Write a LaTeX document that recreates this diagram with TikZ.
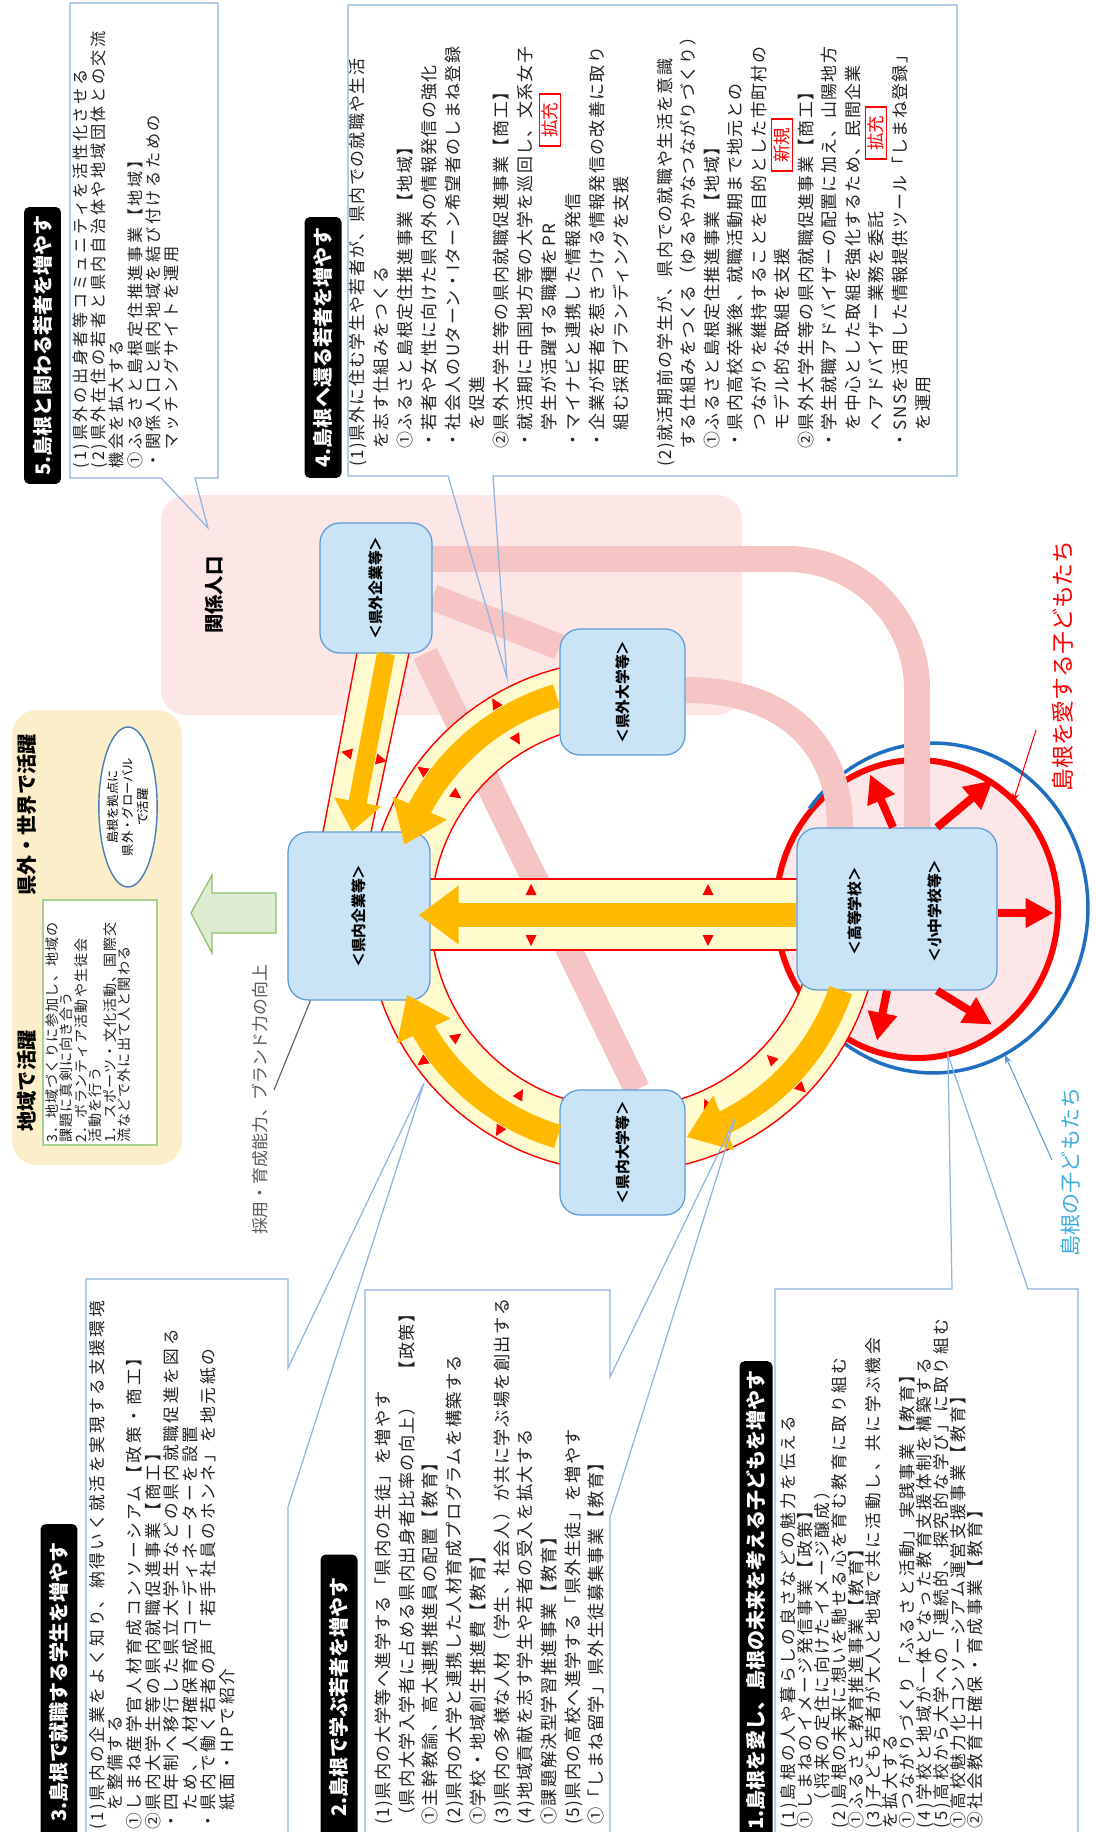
\documentclass[tikz,border=0pt]{standalone}
\usepackage{fontspec}
\newfontfamily\jp{Noto Sans CJK JP}
\newfontfamily\jpls{Noto Sans CJK JP}[LetterSpace=8]
\newfontfamily\jplt{Noto Sans CJK JP}[LetterSpace=16]
\usetikzlibrary{arrows.meta, calc, positioning, shapes.geometric}
\pgfdeclarelayer{bg}
\pgfsetlayers{bg,main}
\definecolor{boxfill}{HTML}{C9E4F7}
\definecolor{boxline}{HTML}{5B9BD5}
\definecolor{ringfill}{HTML}{FFFBCF}
\definecolor{ringred}{HTML}{FF0000}
\definecolor{gold}{HTML}{FFBA00}
\definecolor{pinkband}{HTML}{F7C4C4}
\definecolor{pinkarea}{HTML}{FCE6E6}
\definecolor{pinkfill}{HTML}{FCE6E8}
\definecolor{calloutline}{HTML}{8DB4E2}
\definecolor{kidsblue}{HTML}{1F6FC0}
\definecolor{kidslabel}{HTML}{3DAEE0}
\definecolor{panelfill}{HTML}{FCEEC8}
\definecolor{panelgreen}{HTML}{A9D18E}
\definecolor{arrowgreen}{HTML}{DDEBD1}
\definecolor{arrowgreenline}{HTML}{8CC26E}
\definecolor{ovalline}{HTML}{4A7EBB}
\definecolor{labelgray}{HTML}{595959}
\definecolor{bodyink}{HTML}{222222}
\newcommand\bodyfont[1]{\jpls\fontsize{#1}{#1}\selectfont}
\newcommand\tightfont[1]{\jplt\fontsize{#1}{#1}\selectfont}
\newcommand\paneltitle{\jp\bfseries\fontsize{11.5pt}{12pt}\selectfont}
\newcommand\redtri[2]{\fill[ringred, shift={#1}, rotate=#2] (6,0) -- (-5,5.5) -- (-5,-5.5) -- cycle;}
% one rotated text line per column: baseline x, bottom y, pitch, font, name, lines
\newcommand\textcolumn[6]{%
  \foreach \ln [count=\i from 0] in {#6}{%
    \node[rotate=90, anchor=base west, inner sep=0pt, text=bodyink, font=#4] (#5\i) at ({#1+\i*#3},#2) {\ln};
  }%
}
\begin{document}
\begin{tikzpicture}[x=0.02cm, y=-0.02cm,
  orgbox/.style={draw=boxline, fill=boxfill, rounded corners=0.4cm, rotate=90, line width=0.7pt, inner sep=0pt, font=\jp\bfseries\fontsize{8.4pt}{9pt}\selectfont},
  orglbl/.style={rotate=90, inner sep=0pt, font=\jp\bfseries\fontsize{8.4pt}{9pt}\selectfont},
  blocktitle/.style={fill=black, text=white, rounded corners=3pt, rotate=90, minimum height=0.74cm, inner sep=0pt, font=\jp\bfseries\fontsize{11.4pt}{12pt}\selectfont},
  badge/.style={draw=ringred, text=ringred, fill=white, rotate=90, line width=0.8pt, inner xsep=0.17cm, inner ysep=1.5pt, font=\jp\fontsize{10pt}{10pt}\selectfont},
  vlabel/.style={rotate=90, inner sep=0pt},
  callout/.style={draw=calloutline, line width=0.7pt},
  bandedge/.style={draw=ringred, line width=0.8pt},
  goldarr/.style={draw=gold, line width=0.48cm, -{Triangle[width=1.12cm, length=0.8cm]}},
  goldthin/.style={draw=gold, line width=0.36cm, -{Triangle[width=0.92cm, length=0.6cm]}},
  redarr/.style={draw=ringred, line width=0.16cm, -{Triangle[width=0.56cm, length=0.56cm]}},
  pinkroute/.style={draw=pinkband, line width=0.52cm},
]
\useasboundingbox (0,0) rectangle (1096,1832);
%%--- organisations ---
\node[orgbox, minimum width=2.6cm, minimum height=2.24cm] (kgk) at (376,588) {＜県外企業等＞};
\node[orgbox, minimum width=2.52cm, minimum height=2.5cm] (kgd) at (622.5,692) {＜県外大学等＞};
\node[orgbox, minimum width=3.36cm, minimum height=2.84cm] (knk) at (359,916) {＜県内企業等＞};
\node[orgbox, minimum width=2.5cm, minimum height=2.5cm] (knd) at (622.5,1152.5) {＜県内大学等＞};
\node[orgbox, minimum width=3.24cm, minimum height=4cm] (kou) at (897,909) {};
\node[orglbl] (kouhs) at (855,911) {＜高等学校＞};
\node[orglbl] (kouel) at (935,911) {＜小中学校等＞};
\coordinate (ringc) at (623,916);
\begin{pgfonlayer}{bg}
\fill[white] (0,0) rectangle (1096,1832);
%%--- relation population ---
\fill[pinkarea, rounded corners=0.5cm] (161,495) rectangle (742,715);
\node[vlabel, font=\jp\bfseries\fontsize{11pt}{12pt}\selectfont] (kankei) at (214,595) {関係人口};
%%--- activity panel ---
\fill[panelfill, rounded corners=0.5cm] (12,710) rectangle (182,1165);
\node[vlabel, font=\paneltitle] (abroad) at (27,815) {県外・世界で活躍};
\node[vlabel, font=\paneltitle] (region) at (27,1081) {地域で活躍};
\node[draw=panelgreen, fill=white, line width=0.8pt, rotate=90, minimum width=4.9cm, minimum height=2.28cm, inner sep=0pt] (regionbox) at (100,1022.5) {};
\textcolumn{57.3}{1143}{14.5}{\bodyfont{8pt}}{rg}{3．地域づくりに参加し、地域の, 課題に真剣に向き合う, 2．ボランティア活動や生徒会, 活動を行う, 1．スポーツ・文化活動、国際交, 流などで外に出て人と関わる}
\node[ellipse, draw=ovalline, fill=white, line width=0.8pt, rotate=90, minimum width=3.2cm, minimum height=1.14cm, inner sep=0pt, align=center, font=\jp\fontsize{7pt}{8.5pt}\selectfont] (oval) at (128,807) {島根を拠点に\\県外・グローバル\\で活躍};
\filldraw[fill=arrowgreen, draw=arrowgreenline, line width=0.7pt] (191,913) -- (212,875) -- (212,893) -- (276,893) -- (276,933) -- (212,933) -- (212,953) -- cycle;
%%--- children circles ---
\filldraw[fill=pinkfill, draw=ringred, line width=0.12cm] (917,909) ellipse [x radius=141, y radius=149];
\draw[kidsblue, line width=0.07cm, shift={(933,908)}] plot[domain=-143:125, samples=90] ({155*cos(\x)},{165*sin(\x)});
%%--- pink routes ---
\draw[pinkroute, rounded corners=2.6cm] ($(kgk.south)+(0,-29)$) -| ($(kou.east)+(20,0)$);
\draw[pinkroute] ($(kgk.south)+(0,9)$) -- ($(kgd.north)+(0,-45)$);
\draw[pinkroute] ($(kgk.west)+(49,0)$) -- ($(knd.east)+(14.5,0)$);
\draw[pinkroute] ($(kgd.south)+(0,-2)$) .. controls +(105,0) and +(0,-78) .. ($(kou.east)+(-57,0)$);
%%--- ring and bands ---
\begin{scope}[shift={(ringc)}]
  \fill[ringfill] plot[domain=-5:280, samples=90] (\x:256) -- plot[domain=280:-5, samples=90] (\x:192) -- cycle;
  \draw[bandedge] plot[domain=-5:280, samples=90] (\x:256);
  \draw[bandedge] plot[domain=-5:280, samples=90] (\x:192);
  \foreach \a in {44,66,120,144,216,239} {
    \redtri{(\a:248)}{-\a}
    \redtri{(\a:206)}{180-\a}
  }
\end{scope}
\fill[ringfill] (357,653) -- (409,653) -- (371,832) -- (323,832) -- cycle;
\draw[bandedge] (357,653) -- (323,832);
\draw[bandedge] (409,653) -- (371,832);
\redtri{(347,753)}{-191.5}
\redtri{(381,760)}{-11.5}
\fill[ringfill] (430,879) rectangle (797,950);
\draw[bandedge] (430,879) -- (797,879) (430,950) -- (797,950);
\foreach \p in {531,708} {
  \redtri{(\p,890)}{90}
  \redtri{(\p,940)}{-90}
}
\end{pgfonlayer}
%%--- flows ---
\draw[goldarr] ($(kou.north)+(0,6)$) -- ($(knk.south)+(-12,-1)$);
\draw[goldthin] ($(kgk.west)+(10,0)$) -- ($(knk.east)+(-7,0)$);
\begin{scope}[shift={(ringc)}]
  \draw[goldarr] plot[domain=253.2:208, samples=20] (\x:230) -- (198:230);
  \draw[goldarr] plot[domain=106.5:150, samples=20] (\x:230) -- (160:230);
  \draw[goldarr] plot[domain=18.8:64, samples=20] (\x:230) -- (74:230);
\end{scope}
\draw[redarr] ($(kou.east)+(-4,0)$) -- ++(-23,-53);
\draw[redarr] ($(kou.east)+(40,0)$) -- ++(56,-47);
\draw[redarr] ($(kou.south)+(0,4)$) -- ++(56,0);
\draw[redarr] ($(kou.west)+(40,0)$) -- ++(55,34);
\draw[redarr] ($(kou.west)+(-10,0)$) -- ++(-10,50);
%%--- children labels ---
\node[vlabel, text=ringred, font=\jp\fontsize{13pt}{14pt}\selectfont] (lovekids) at (1063,666) {島根を愛する子どもたち};
\draw[ringred, line width=0.6pt, -{Stealth[length=5pt, width=4pt]}] (1036,730) -- (1013,802);
\node[vlabel, text=kidslabel, font=\jp\fontsize{12pt}{13pt}\selectfont] (allkids) at (1070,1172) {島根の子どもたち};
\draw[kidsblue!70, line width=0.6pt, -{Stealth[length=5pt, width=4pt]}] (1052,1160) -- (1005,1055);
\node[vlabel, text=labelgray, font=\jp\fontsize{9.6pt}{10pt}\selectfont] (brand) at (260,1100) {採用・育成能力、ブランド力の向上};
\draw[labelgray, line width=0.6pt] (274,1090) -- ($(knk.north west)+(23,0)$);
%%--- 5. related youth ---
\node[blocktitle, minimum width=5.54cm] (t5) at (42.5,345.5) {5.島根と関わる若者を増やす};
\textcolumn{86.1}{469}{18.3}{\tightfont{9.2pt}}{bf}{(1)県外の出身者等コミュニティを活性化させる, (2)県外在住の若者と県内自治体や地域団体との交流, 機会を拡大する, ①ふるさと島根定住推進事業【地域】, ・関係人口と県内地域を結び付けるための, 　マッチングサイトを運用}
\draw[callout] (70,3) -- (218,3) -- (218,478) -- (195,478) -- (208,528) -- (161,478) -- (70,478) -- cycle;
%%--- 4. returning youth ---
\node[blocktitle, minimum width=5.22cm] (t4) at (323,347.5) {4.島根へ還る若者を増やす};
\textcolumn{363.4}{467}{24}{\bodyfont{9.65pt}}{bd}{(1)県外に住む学生や若者が、県内での就職や生活, 　を志す仕組みをつくる, 　①ふるさと島根定住推進事業【地域】, 　・若者や女性に向けた県内外の情報発信の強化, 　・社会人のUターン・Iターン希望者のしまね登録, 　　を促進, 　②県外大学生等の県内就職促進事業【商工】, 　・就活期に中国地方等の大学を巡回し、文系女子, 　　学生が活躍する職種をPR, 　・マイナビと連携した情報発信, 　・企業が若者を惹きつける情報発信の改善に取り, 　　組む採用ブランディングを支援}
\textcolumn{671.4}{467}{23.5}{\bodyfont{9.65pt}}{be}{(2)就活期前の学生が、県内での就職や生活を意識, 　する仕組みをつくる（ゆるやかなつながりづくり）, 　①ふるさと島根定住推進事業【地域】, 　・県内高校卒業後、就職活動期まで地元との, 　　つながりを維持することを目的とした市町村の, 　　モデル的な取組を支援, 　②県外大学生等の県内就職促進事業【商工】, 　・学生就職アドバイザーの配置に加え、山陽地方, 　　を中心とした取組を強化するため、民間企業, 　　へアドバイザー業務を委託, 　・SNSを活用した情報提供ツール「しまね登録」, 　　を運用}
\node[badge] (new4a) at (550,120) {拡充};
\node[badge] (new4b) at (782,145) {新規};
\node[badge] (new4c) at (876,133) {拡充};
\draw[callout] (348,5) -- (957,5) -- (957,476) -- (493,476) -- (507,678) -- (448,476) -- (348,476) -- cycle;
%%--- 3. employment ---
\node[blocktitle, minimum width=6.32cm] (t3) at (59,1682) {3.島根で就職する学生を増やす};
\textcolumn{103.3}{1830}{18.6}{\tightfont{9.5pt}}{bc}{(1)県内の企業をよく知り、納得いく就活を実現する支援環境, 　を整備する, ①しまね産学官人材育成コンソーシアム【政策・商工】, ②県内大学生等の県内就職促進事業【商工】, ・四年制へ移行した県立大学生などの県内就職促進を図る, 　ため、人材確保育成コーディネーターを設置, ・県内で働く若者の声「若手社員のホンネ」を地元紙の, 　紙面・HPで紹介}
\draw[callout] (86,1840) -- (86,1279) -- (288,1279) -- (288,1368) -- (424,1083) -- (288,1507) -- (288,1840);
%%--- 2. study ---
\node[blocktitle, minimum width=5.7cm] (t2) at (339,1697) {2.島根で学ぶ若者を増やす};
\textcolumn{389.5}{1825}{23.7}{\bodyfont{9.8pt}}{bb}{(1)県内の大学等へ進学する「県内の生徒」を増やす, （県内大学入学者に占める県内出身者比率の向上）　【政策】, ①主幹教諭、高大連携推進員の配置【教育】, (2)県内の大学と連携した人材育成プログラムを構築する, ①学校・地域創生推進費【教育】, (3)県内の多様な人材（学生、社会人）が共に学ぶ場を創出する, (4)地域貢献を志す学生や若者の受入を拡大する, ①課題解決型学習推進事業【教育】, (5)県内の高校へ進学する「県外生徒」を増やす, ①「しまね留学」県外生徒募集事業【教育】}
\draw[callout] (365,1840) -- (365,1290) -- (610,1290) -- (610,1377) -- (735,1119) -- (610,1517) -- (610,1840);
%%--- 1. children ---
\node[blocktitle, minimum width=9.56cm, minimum height=0.66cm] (t1) at (756,1600) {1.島根を愛し、島根の未来を考える子どもを増やす};
\textcolumn{794.3}{1829}{17}{\tightfont{9.5pt}}{ba}{(1)島根の人や暮らしの良さなどの魅力を伝える, ①しまねのイメージ発信事業【政策】, 　（将来の定住に向けたイメージ醸成）, (2)島根の未来に想いを馳せる心を育む教育に取り組む, ①ふるさと教育推進事業【教育】, (3)子ども若者が大人と地域で共に活動し、共に学ぶ機会, を拡大する, ①つながりづくり「ふるさと活動」実践事業【教育】, (4)学校と地域が一体となった教育支援体制を構築する, (5)高校から大学への「連続的、探究的な学び」に取り組む, ①高校魅力化コンソーシアム運営支援事業【教育】, ②社会教育士確保・育成事業【教育】}
\draw[callout] (775,1840) -- (775,1289) -- (952,1289) -- (948,1055) -- (1028,1289) -- (1078,1289) -- (1078,1840);
\end{tikzpicture}
\end{document}
